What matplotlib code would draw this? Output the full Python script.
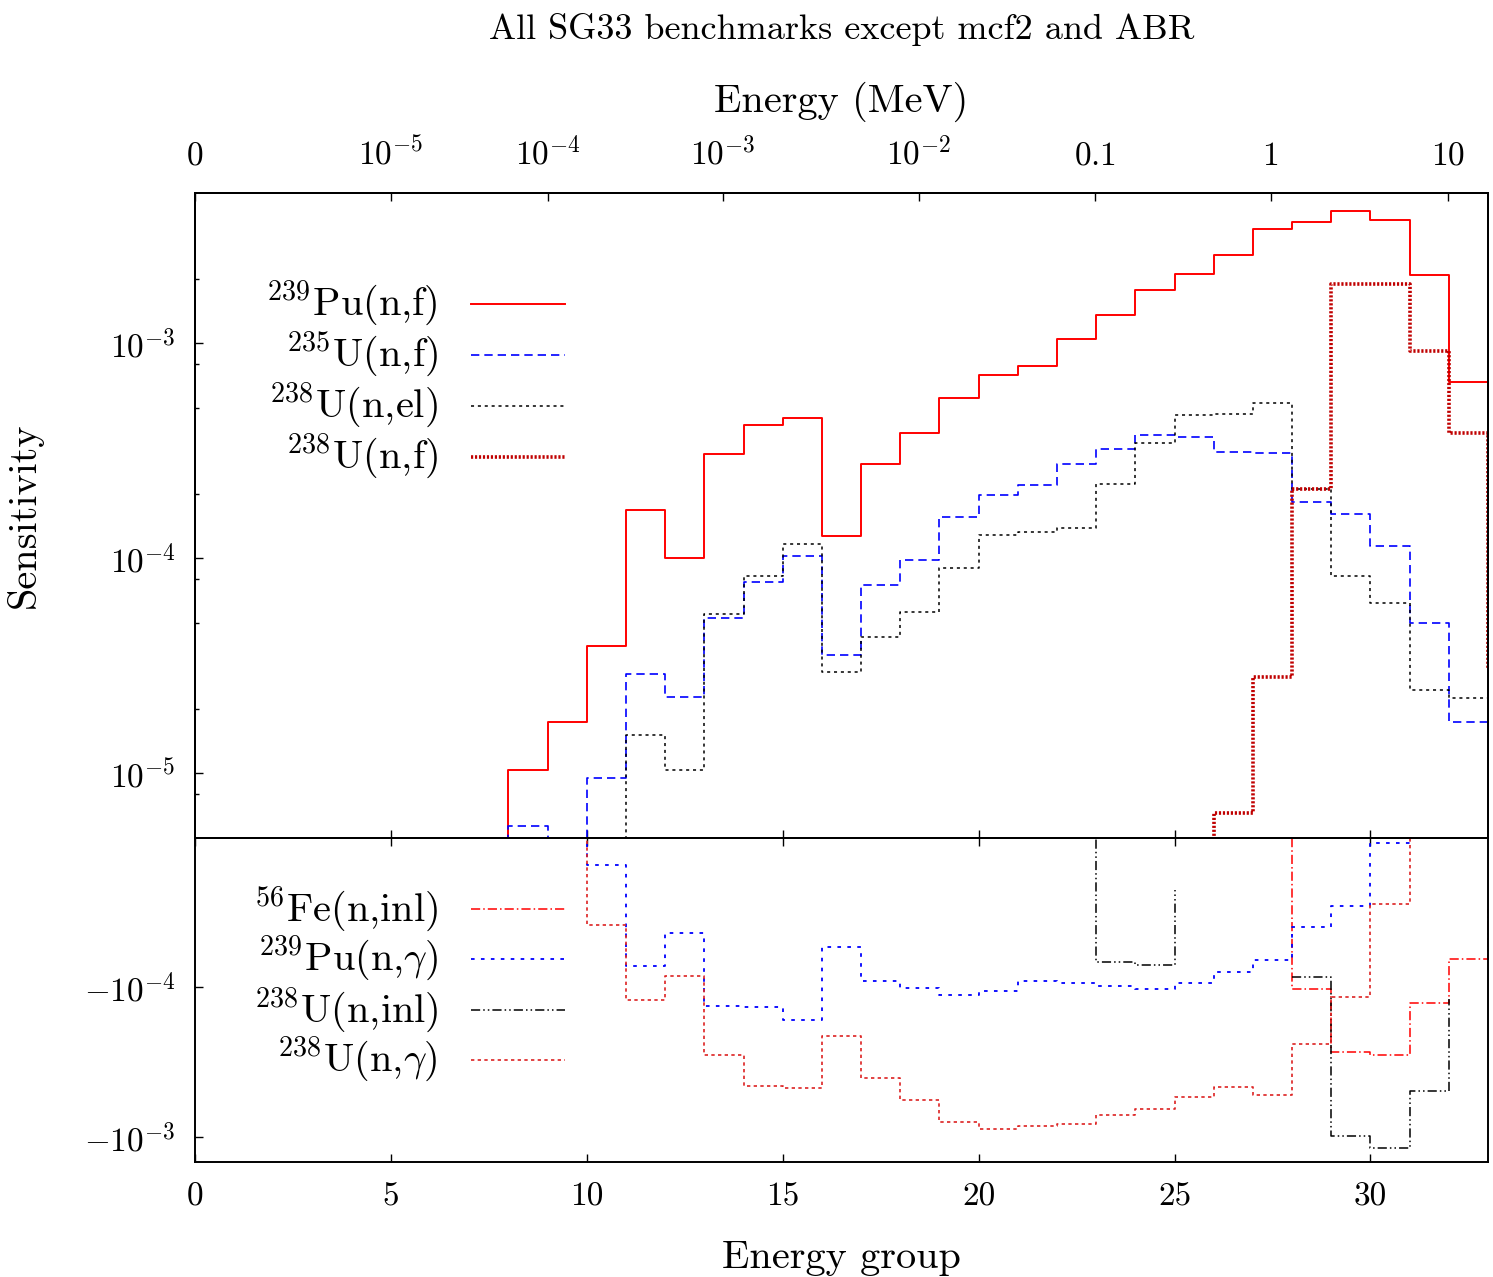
import numpy as np
import matplotlib
matplotlib.use("Agg")
import matplotlib.pyplot as plt

plt.rcParams["font.family"] = "serif"
plt.rcParams["font.serif"] = ["cmr10"]
plt.rcParams["mathtext.fontset"] = "cm"
plt.rcParams["axes.unicode_minus"] = False

nan = np.nan

# ---------------- Datos (índice = borde izquierdo del grupo, 0..33) ----------------
groups = np.arange(34)

# sensibilidades positivas (panel superior)
pu239_nf = [nan]*7 + [3e-6, 1.04e-5, 1.73e-5, 3.92e-5, 1.68e-4, 1.0e-4, 3.06e-4,
                      4.15e-4, 4.48e-4, 1.27e-4, 2.75e-4, 3.81e-4, 5.57e-4, 7.1e-4,
                      7.83e-4, 1.05e-3, 1.36e-3, 1.77e-3, 2.1e-3, 2.57e-3, 3.41e-3,
                      3.65e-3, 4.11e-3, 3.74e-3, 2.07e-3, 6.6e-4, 3.1e-5]
u235_nf = [nan]*7 + [2e-6, 5.7e-6, 2e-6, 9.5e-6, 2.91e-5, 2.27e-5, 5.28e-5,
                     7.72e-5, 1.03e-4, 3.56e-5, 7.48e-5, 9.84e-5, 1.55e-4, 1.96e-4,
                     2.2e-4, 2.75e-4, 3.21e-4, 3.76e-4, 3.65e-4, 3.13e-4, 3.09e-4,
                     1.82e-4, 1.61e-4, 1.14e-4, 4.98e-5, 1.74e-5, 1.0e-5]
u238_nel = [nan]*10 + [2e-6, 1.51e-5, 1.04e-5, 5.5e-5, 8.26e-5, 1.16e-4, 2.96e-5,
                       4.3e-5, 5.6e-5, 9.04e-5, 1.29e-4, 1.33e-4, 1.39e-4, 2.21e-4,
                       3.45e-4, 4.64e-4, 4.7e-4, 5.28e-4, 2.1e-4, 8.3e-5, 6.18e-5,
                       2.45e-5, 2.25e-5, 1.5e-5]
u238_nf = [nan]*25 + [2e-6, 6.57e-6, 2.81e-5, 2.1e-4, 1.88e-3, 1.88e-3, 9.24e-4,
                      3.81e-4, 3.1e-5]

# sensibilidades negativas (panel inferior)
fe56_ninl = [nan]*27 + [-5e-6, -1.03e-4, -2.71e-4, -2.83e-4, -1.27e-4, -6.41e-5, -3e-5]
pu239_ng = [nan]*9 + [-5e-6, -1.51e-5, -7.22e-5, -4.34e-5, -1.33e-4, -1.35e-4, -1.66e-4,
                      -5.39e-5, -9.08e-5, -1.01e-4, -1.13e-4, -1.06e-4, -9.1e-5, -9.3e-5,
                      -9.8e-5, -1.03e-4, -9.35e-5, -7.88e-5, -6.55e-5, -3.94e-5,
                      -2.86e-5, -1.08e-5, -5e-6, nan, nan]
u238_ninl = [nan]*22 + [-5e-6, -6.71e-5, -7.08e-5, -2.24e-5, nan, nan, -8.5e-5,
                        -9.8e-4, -1.18e-3, -4.89e-4, -1.2e-4, nan]
u238_ng = [nan]*9 + [-5e-6, -3.84e-5, -1.22e-4, -8.4e-5, -2.81e-4, -4.59e-4, -4.72e-4,
                     -2.1e-4, -4.01e-4, -5.63e-4, -7.94e-4, -8.86e-4, -8.44e-4, -8.22e-4,
                     -7.11e-4, -6.52e-4, -5.4e-4, -4.66e-4, -5.21e-4, -2.39e-4,
                     -1.15e-4, -2.75e-5, -5e-6, nan, nan]

# eje superior: energía (MeV) en posiciones de grupo
energy_labels = [r"$0$", r"$10^{-5}$", r"$10^{-4}$", r"$10^{-3}$", r"$10^{-2}$",
                 r"$0.1$", r"$1$", r"$10$"]
energy_pos = [0, 5.0, 9.0, 13.47, 18.47, 22.96, 27.45, 31.97]


def gp_steps(x, y):
    """Escalones tipo gnuplot 'steps': horizontal y luego vertical,
    solo entre puntos consecutivos definidos."""
    y = np.asarray(y, dtype=float)
    xs, ys = [], []
    for i in range(len(x) - 1):
        if np.isfinite(y[i]) and np.isfinite(y[i + 1]):
            xs += [x[i], x[i + 1], x[i + 1]]
            ys += [y[i], y[i], y[i + 1]]
        else:
            xs.append(nan)
            ys.append(nan)
    return xs, ys


# estilos
top_series = [
    (r"$^{239}$Pu(n,f)", pu239_nf, dict(color="#ff0000", lw=1.4, ls="-")),
    (r"$^{235}$U(n,f)", u235_nf, dict(color="#0000ff", lw=1.2, ls=(0, (5, 3)))),
    (r"$^{238}$U(n,el)", u238_nel, dict(color="#000000", lw=1.1, ls=(0, (2, 2.5)))),
    (r"$^{238}$U(n,f)", u238_nf, dict(color="#c00000", lw=2.6, ls=(0, (0.6, 0.5)))),
]
bot_series = [
    (r"$^{56}$Fe(n,inl)", fe56_ninl, dict(color="#ff0000", lw=1.1, ls=(0, (6, 2, 1, 2)))),
    (r"$^{239}$Pu(n,$\gamma$)", pu239_ng, dict(color="#0000ff", lw=1.3, ls=(0, (2, 3.5)))),
    (r"$^{238}$U(n,inl)", u238_ninl, dict(color="#000000", lw=1.1, ls=(0, (6, 2, 1, 2, 1, 2)))),
    (r"$^{238}$U(n,$\gamma$)", u238_ng, dict(color="#dd2222", lw=1.2, ls=(0, (2, 2)))),
]

W, H = 1493, 1277
fig = plt.figure(figsize=(W / 100, H / 100), dpi=100)
left, right = 195, 1488
ax1 = fig.add_axes([left / W, 1 - 838 / H, (right - left) / W, (838 - 193) / H])
ax2 = fig.add_axes([left / W, 1 - 1162 / H, (right - left) / W, (1162 - 838) / H])

fs_tick = 24
fs_lab = 29
fs_leg = 29

# ---------------- Panel superior ----------------
for lab, vals, st in top_series:
    xs, ys = gp_steps(groups, vals)
    ax1.plot(xs, ys, **st)
ax1.set_yscale("log")
ax1.set_xlim(0, 33)
ax1.set_ylim(5e-6, 5e-3)
ax1.set_yticks([1e-5, 1e-4, 1e-3])
ax1.set_yticklabels([r"$10^{-5}$", r"$10^{-4}$", r"$10^{-3}$"], fontsize=fs_tick)
minors = [m * 10.0**e for e in (-6, -5, -4, -3) for m in (2, 5, 8)]
ax1.set_yticks([v for v in minors if 5e-6 < v < 5e-3], minor=True)
ax1.set_yticklabels([], minor=True)
ax1.set_xticks([5, 10, 15, 20, 25, 30])
ax1.set_xticklabels([])
ax1.tick_params(axis="y", which="major", direction="in", length=6, width=1, pad=14, right=False)
ax1.tick_params(axis="y", which="minor", direction="in", length=3, width=1, right=False)
ax1.tick_params(axis="x", direction="in", length=6, width=1, top=False)
ax1.set_ylabel("Sensitivity", fontsize=fs_lab)
ax1.yaxis.set_label_coords(-0.118, 0.5)

axt = ax1.twiny()
axt.set_xlim(0, 33)
axt.set_xticks(energy_pos)
axt.set_xticklabels(energy_labels, fontsize=fs_tick)
axt.tick_params(axis="x", direction="in", length=6, width=1, pad=16)
axt.set_xlabel("Energy (MeV)", fontsize=fs_lab, labelpad=17)

# ---------------- Panel inferior (magnitud, eje invertido) ----------------
for lab, vals, st in bot_series:
    xs, ys = gp_steps(groups, -np.asarray(vals, dtype=float))
    ax2.plot(xs, ys, **st)
ax2.set_yscale("log")
ax2.set_xlim(0, 33)
ax2.set_ylim(1.47e-3, 1e-5)
ax2.set_yticks([1e-4, 1e-3])
ax2.set_yticklabels([r"$-10^{-4}$", r"$-10^{-3}$"], fontsize=fs_tick)
ax2.set_yticks([], minor=True)
ax2.set_xticks([0, 5, 10, 15, 20, 25, 30])
ax2.set_xticklabels(["0", "5", "10", "15", "20", "25", "30"], fontsize=fs_tick)
ax2.tick_params(axis="y", direction="in", length=6, width=1, pad=14, right=False)
ax2.tick_params(axis="x", direction="in", length=6, width=1, pad=15, top=True)
ax2.set_xlabel("Energy group", fontsize=fs_lab)
ax2.xaxis.set_label_coords(0.5, -0.24)

for ax in (ax1, ax2, axt):
    for sp in ax.spines.values():
        sp.set_linewidth(1.4)

# ---------------- Leyendas (texto a la izquierda, muestra a la derecha) ----------------
def draw_key(ax, series, ys):
    for (lab, vals, st), yy in zip(series, ys):
        ax.text(0.188, yy, lab, transform=ax.transAxes, ha="right", va="center",
                fontsize=fs_leg)
        ax.plot([0.2134, 0.2862], [yy, yy], transform=ax.transAxes, **st)

draw_key(ax1, top_series, [0.828, 0.749, 0.670, 0.591])
draw_key(ax2, bot_series, [0.781, 0.627, 0.469, 0.315])

fig.text(841.5 / W, 1 - 30 / H, "All SG33 benchmarks except mcf2 and ABR",
         ha="center", va="center", fontsize=26)

fig.savefig("out.png", dpi=100)
